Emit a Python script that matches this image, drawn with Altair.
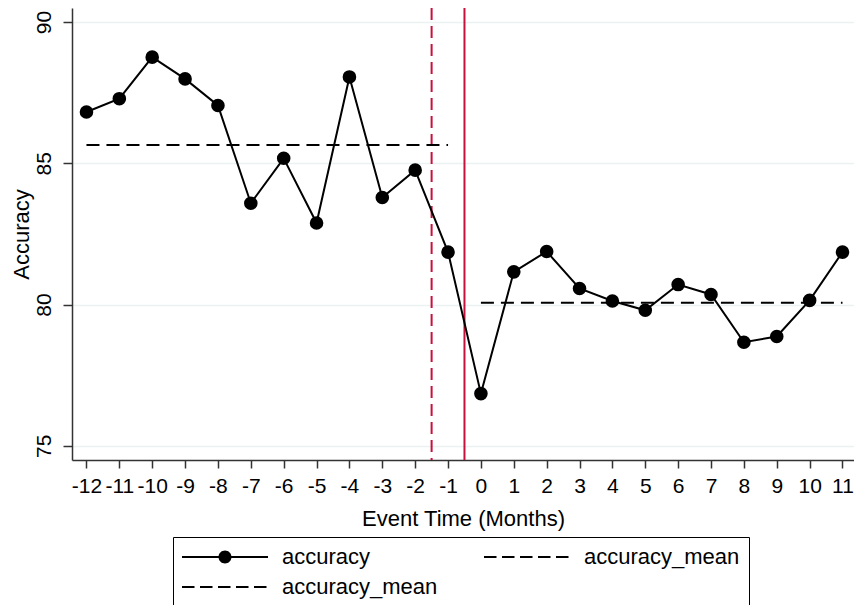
import altair as alt
import pandas as pd

# ---- data ----
months = list(range(-12, 12))
accuracy = [86.82, 87.29, 88.76, 87.99, 87.05, 83.59, 85.18, 82.89, 88.06, 83.79, 84.76, 81.86,
            76.85, 81.16, 81.88, 80.57, 80.13, 79.80, 80.71, 80.36, 78.67, 78.87, 80.15, 81.86]
pre_months = [-12, -1]
pre_mean = [85.65, 85.65]
post_months = [0, 11]
post_mean = [80.07, 80.07]
event_lines = [-1.5, -0.5]
event_styles = ["dashed", "solid"]
y_ticks = [75, 80, 85, 90]
series_keys = ["accuracy", "accuracy_mean_pre", "accuracy_mean_post"]
series_labels = ["accuracy", "accuracy_mean", "accuracy_mean"]

FONT = "Liberation Sans"
RED = "#C8103C"

acc_df = pd.DataFrame({"month": months, "value": accuracy})
mean_df = pd.DataFrame({
    "month": pre_months + post_months,
    "value": pre_mean + post_mean,
    "series": [series_keys[1]] * 2 + [series_keys[2]] * 2,
})
vline_df = pd.DataFrame({"month": event_lines, "style": event_styles})
legend_df = pd.DataFrame({"series": series_keys, "month": [0, 0, 0], "value": [0, 0, 0]})

xscale = alt.Scale(domain=[-12.44, 11.35], nice=False, zero=False)
yscale = alt.Scale(domain=[74.5, 90.5], nice=False, zero=False)

x_axis = alt.Axis(values=months, title="Event Time (Months)", grid=False,
                  labelExpr="toString(datum.value)",
                  labelFontSize=21, titleFontSize=22, tickSize=8, labelPadding=7,
                  titlePadding=12, domainColor="#333333", tickColor="#333333",
                  domainWidth=1.5, tickWidth=1.5, labelColor="black", titleColor="black",
                  titleFontWeight="normal", labelFont=FONT, titleFont=FONT, labelFlush=False,
                  labelOverlap=False)
y_axis = alt.Axis(values=y_ticks, title="Accuracy", grid=True, gridColor="#EAF2F3",
                  gridWidth=1.5, labelFontSize=21, titleFontSize=22, tickSize=9,
                  labelAngle=270, labelAlign="center", labelBaseline="bottom",
                  labelPadding=9, titlePadding=0, domainColor="#333333",
                  tickColor="#333333", domainWidth=1.5, tickWidth=1.5,
                  labelColor="black", titleColor="black", titleFontWeight="normal",
                  labelFont=FONT, titleFont=FONT, labelOverlap=False)

x_enc = alt.X("month:Q", scale=xscale, axis=x_axis)
y_enc = alt.Y("value:Q", scale=yscale, axis=y_axis)

vline_dashed = alt.Chart(vline_df).transform_filter("datum.style == 'dashed'").mark_rule(
    color=RED, strokeWidth=2, strokeDash=[12, 6]).encode(x=x_enc)
vline_solid = alt.Chart(vline_df).transform_filter("datum.style == 'solid'").mark_rule(
    color=RED, strokeWidth=2).encode(x=x_enc)

mean_lines = alt.Chart(mean_df).mark_line(color="black", strokeWidth=2, strokeDash=[13, 7]).encode(
    x=x_enc, y=y_enc, detail="series:N")

acc_line = alt.Chart(acc_df).mark_line(color="black", strokeWidth=2).encode(x=x_enc, y=y_enc)
acc_pts = alt.Chart(acc_df).mark_circle(color="black", size=185, opacity=1).encode(x=x_enc, y=y_enc)

# legend symbols as filled custom paths (unit = 10 px): line with dot, dashed line
p_line_dot = ("M-1.1,-0.1L2.6,-0.1L2.6,0.1L-1.1,0.1Z"
              "M3.8,-0.1L7.5,-0.1L7.5,0.1L3.8,0.1Z"
              "M2.55,0A0.65,0.65,0,1,1,3.85,0A0.65,0.65,0,1,1,2.55,0Z")
dash_segs = [(-1.1, 0.15), (0.7, 1.95), (2.5, 3.75), (4.3, 5.55), (6.1, 7.35)]
p_dash = "".join(f"M{a},-0.1L{b},-0.1L{b},0.1L{a},0.1Z" for a, b in dash_segs)

legend_layer = alt.Chart(legend_df).mark_point(filled=True, color="black", size=400,
                                               clip=True, opacity=1).encode(
    x=x_enc,
    y=y_enc,
    shape=alt.Shape("series:N",
                    scale=alt.Scale(domain=series_keys, range=[p_line_dot, p_dash, p_dash]),
                    legend=alt.Legend(
                        title=None, orient="none", legendX=101, legendY=529, columns=2,
                        columnPadding=46, rowPadding=8, padding=9,
                        strokeColor="black", fillColor="white",
                        labelFontSize=22, labelFont=FONT, labelColor="black",
                        labelOffset=78, labelLimit=400,
                        symbolSize=400, symbolStrokeWidth=0,
                        symbolFillColor="black", symbolOpacity=1,
                        labelExpr="datum.label == 'accuracy' ? 'accuracy' : 'accuracy_mean'",
                    )),
)

chart = alt.layer(vline_dashed, vline_solid, mean_lines, acc_line, acc_pts, legend_layer).properties(
    width=782, height=452,
    padding={"left": 64, "top": 0, "right": 0, "bottom": 145},
    autosize=alt.AutoSizeParams(type="none"),
    background="white",
).configure_view(stroke=None)

chart.save("out.html", embed_options={"renderer": "svg", "actions": False})
